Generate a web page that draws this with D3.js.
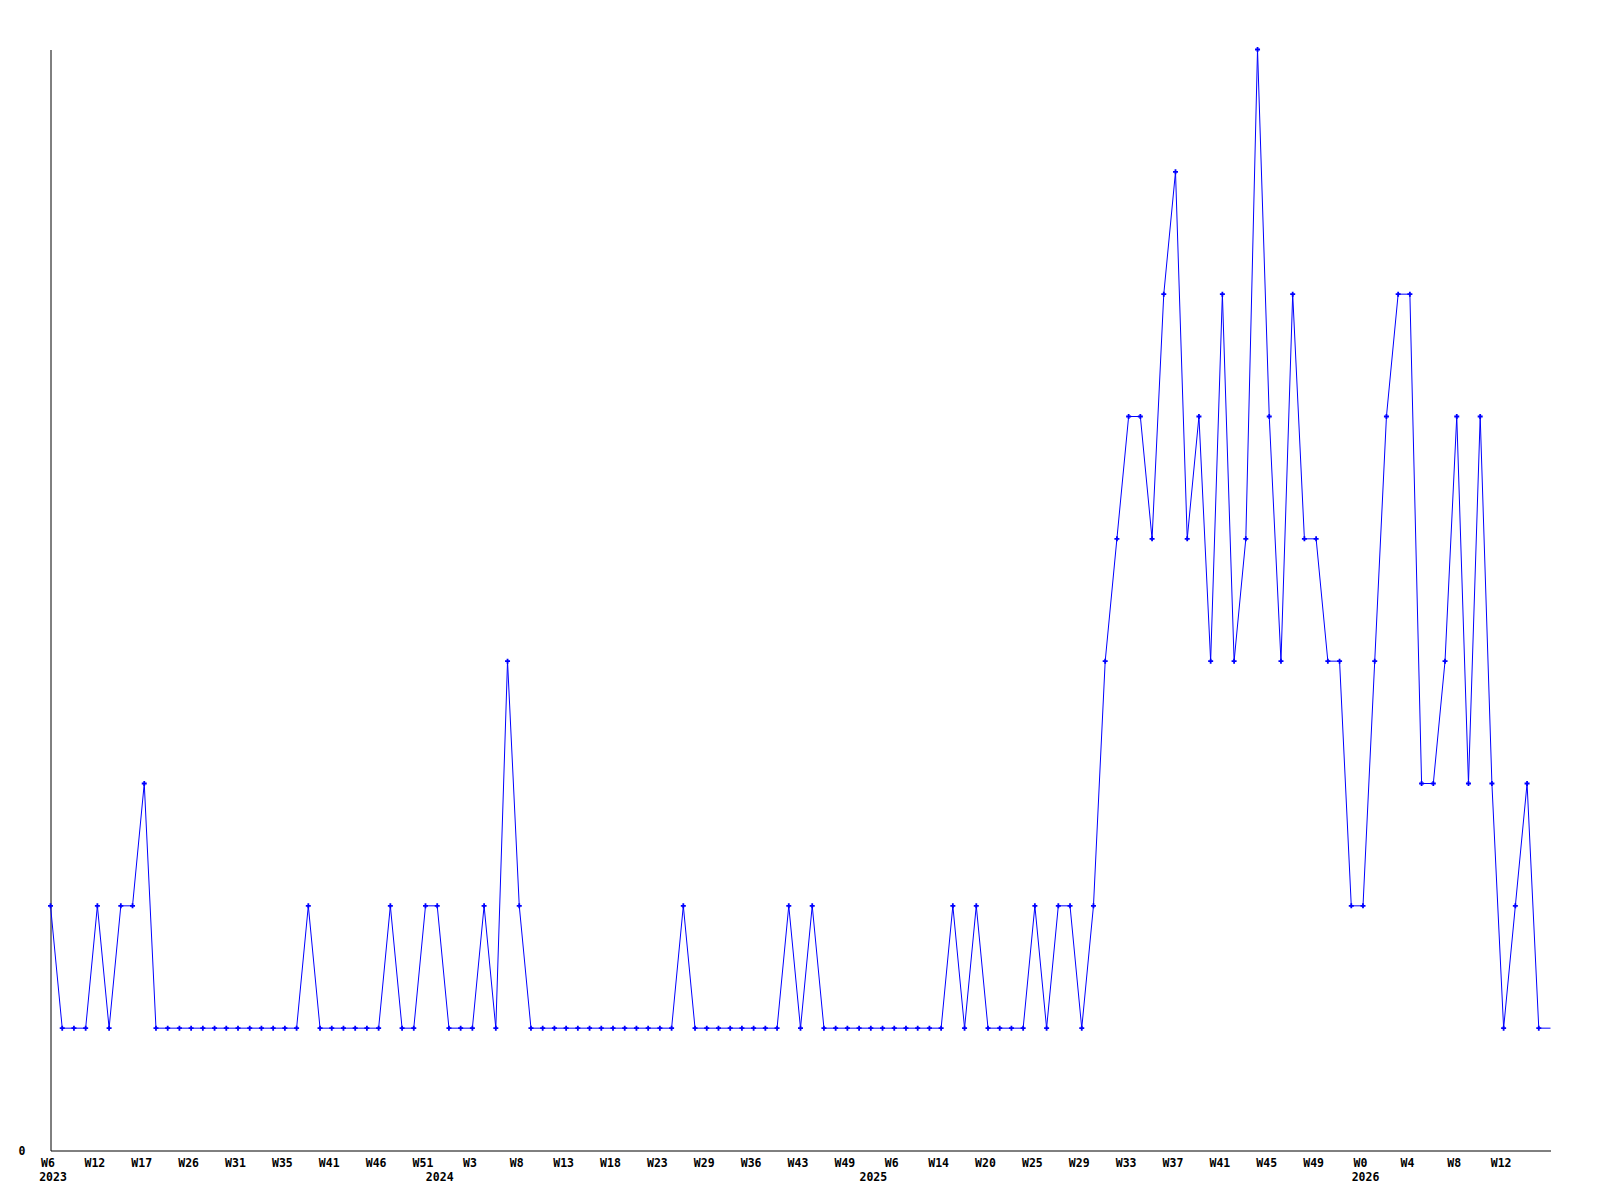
<!DOCTYPE html>
<html>
<head>
<meta charset="utf-8">
<script src="https://cdn.jsdelivr.net/npm/d3@7"></script>
<style>
    body { margin: 0; background: #ffffff; }
    svg text { font-family: "DejaVu Sans Mono", "Liberation Mono", monospace; font-weight: bold; font-size: 11.5px; fill: #000000; }
</style>
</head>
<body>
<div id="canvas"></div>
<script>
"use strict"

/* Weekly counts, one per week that has data (oldest first) */
let counts = [
    2, 1, 1, 1, 2, 1, 2, 2, 3, 1,
    1, 1, 1, 1, 1, 1, 1, 1, 1, 1,
    1, 1, 2, 1, 1, 1, 1, 1, 1, 2,
    1, 1, 2, 2, 1, 1, 1, 2, 1, 4,
    2, 1, 1, 1, 1, 1, 1, 1, 1, 1,
    1, 1, 1, 1, 2, 1, 1, 1, 1, 1,
    1, 1, 1, 2, 1, 2, 1, 1, 1, 1,
    1, 1, 1, 1, 1, 1, 1, 2, 1, 2,
    1, 1, 1, 1, 2, 1, 2, 2, 1, 2,
    4, 5, 6, 6, 5, 7, 8, 5, 6, 4,
    7, 4, 5, 9, 6, 4, 7, 5, 5, 4,
    4, 2, 2, 4, 6, 7, 7, 3, 3, 4,
    6, 3, 6, 3, 1, 2, 3, 1, 1
];

/* Labels shown under every fourth week */
let weekLabels = [
    "W6", "W12", "W17", "W26", "W31", "W35", "W41", "W46", "W51",
    "W3", "W8", "W13", "W18", "W23", "W29", "W36", "W43", "W49",
    "W6", "W14", "W20", "W25", "W29", "W33", "W37", "W41", "W45", "W49",
    "W0", "W4", "W8", "W12"
];

/* Years and the first week (index) of each year */
let years = ["2023", "2024", "2025", "2026"];
let yearStart = [0, 33, 70, 112];

let yTicks = [0];

/* SVG drawing canvas */
let drawing = d3.select("#canvas")
    .append("svg")
    .attr("width", 1600)
    .attr("height", 1200);

let weeks = d3.range(counts.length);

let xScale = d3.scalePoint()
    .domain(weeks)
    .range([50.5, 1550.5]);

let yScale = d3.scaleLinear()
    .domain([0, 9])
    .range([1150.5, 49.5]);

/* X axis: no tick marks, a label every fourth week */
let xAxis = drawing.append("g")
    .attr("transform", "translate(0,1150.5)")
    .call(d3.axisBottom(xScale)
        .tickValues(weeks.filter(d => d % 4 === 0))
        .tickFormat(d => weekLabels[d / 4])
        .tickSize(0)
        .tickPadding(8.8));

xAxis.select(".domain").attr("stroke", "black");
xAxis.selectAll("text")
    .attr("x", -3)
    .style("font-family", null)
    .style("font-size", null);
xAxis.attr("font-family", null).attr("font-size", null);

/* Y axis: only the 0 label */
let yAxis = drawing.append("g")
    .attr("transform", "translate(50.5,0)")
    .call(d3.axisLeft(yScale)
        .tickValues(yTicks)
        .tickSize(0)
        .tickPadding(25));

yAxis.select(".domain").attr("stroke", "black");
yAxis.attr("font-family", null).attr("font-size", null);

/* Year labels under the first week of each year */
let yearText = drawing.append("g")
    .selectAll("text")
    .data(years)
    .join("text")
    .attr("x", (d, i) => xScale(yearStart[i]) + 2.5)
    .attr("y", 1180.5)
    .attr("text-anchor", "middle")
    .text(d => d);

/* The line */
let countLine = drawing.append("path")
    .datum(counts)
    .attr("fill", "none")
    .attr("stroke", "#0000ff")
    .attr("stroke-width", 1)
    .attr("d", d3.line()
        .x((d, i) => xScale(i))
        .y(d => yScale(d)));

/* Plus markers (the last, unfinished week has none) */
let markers = drawing.append("g")
    .selectAll("path")
    .data(counts.slice(0, counts.length - 1))
    .join("path")
    .attr("transform", (d, i) => "translate(" + xScale(i) + "," + yScale(d) + ")")
    .attr("d", "M-2.5,0H2.5M0,-2.5V2.5")
    .attr("stroke", "#0000ff")
    .attr("stroke-width", 1.8)
    .attr("fill", "none");
</script>
</body>
</html>
